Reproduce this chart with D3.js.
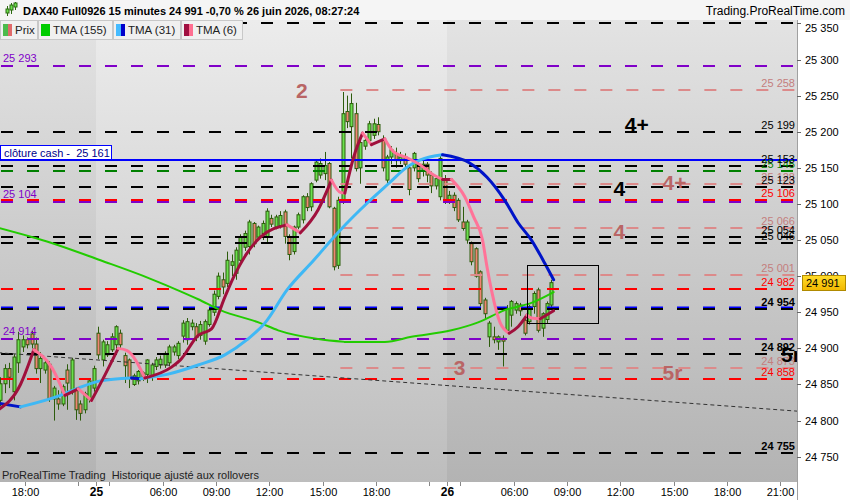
<!DOCTYPE html>
<html><head><meta charset="utf-8">
<script src="https://cdn.jsdelivr.net/npm/d3@7"></script>
<style>body{margin:0;background:#fff;} svg{display:block;font-family:"Liberation Sans",Arial,sans-serif;}</style>
</head><body><svg id="c" width="850" height="500"></svg>
<script>
// ---------------- DATA ----------------
const sessions = [
  {day:"24", start:"16:30", end:"22:00"},
  {day:"25", start:"02:15", end:"22:00"},
  {day:"26", start:"02:15", end:"22:00"}
];
const xTickTimes  = ["24 18:00","24 21:00","25 02:15","25 03:00","25 06:00","25 09:00","25 12:00","25 15:00","25 18:00","25 21:00","26 02:15","26 03:00","26 06:00","26 09:00","26 12:00","26 15:00","26 18:00","26 21:00"];
const xTickLabels = ["18:00","","25","","06:00","09:00","12:00","15:00","18:00","","26","","06:00","09:00","12:00","15:00","18:00","21:00"];
const yTicks = [24750,24800,24850,24900,24950,25000,25050,25100,25150,25200,25250,25300,25350];

// candles, one per 15-min bar from 24 juin 16:30: [open, high, low, close]
const candles = [
[24828,24860,24820,24851],[24851,24878,24838,24872],[24872,24880,24845,24860],[24840,24892,24828,24888],
[24880,24923,24866,24912],[24902,24918,24895,24912],[24912,24915,24900,24905],[24920,24924,24900,24906],
[24906,24915,24865,24872],[24872,24895,24852,24886],[24870,24885,24865,24880],[24878,24882,24826,24830],
[24830,24848,24800,24845],[24830,24842,24815,24823],[24823,24850,24820,24847],[24870,24878,24815,24852],
[24840,24887,24836,24884],[24842,24846,24801,24815],[24823,24828,24800,24810],[24815,24840,24810,24837],
[24830,24858,24825,24855],[24845,24876,24840,24872],
[24921,24930,24885,24891],[24884,24912,24875,24909],[24891,24910,24888,24905],[24898,24921,24895,24916],
[24905,24932,24900,24930],[24921,24926,24900,24905],[24890,24894,24852,24876],[24884,24886,24845,24858],
[24850,24865,24848,24862],[24855,24870,24850,24868],[24866,24868,24855,24860],[24864,24885,24852,24884],
[24862,24880,24855,24877],[24875,24888,24870,24884],[24877,24890,24872,24885],[24877,24896,24873,24893],
[24880,24905,24875,24902],[24895,24905,24890,24902],[24890,24910,24885,24907],[24917,24939,24908,24935],
[24912,24942,24905,24937],[24930,24940,24925,24935],[24930,24935,24910,24915],[24918,24938,24912,24933],
[24910,24940,24905,24937],[24933,24957,24930,24953],[24950,24980,24945,24975],[24972,25005,24968,25000],
[24995,25005,24975,24985],[24990,25034,24985,25022],[25015,25030,25000,25020],[25004,25040,24995,25036],
[25022,25058,25020,25054],[25040,25063,25035,25059],[25041,25078,25030,25075],[25073,25075,25040,25045],
[25054,25070,25050,25068],[25059,25077,25050,25073],[25055,25094,25045,25090],[25080,25085,25068,25072],
[25068,25085,25065,25082],[25070,25090,25066,25084],[25089,25092,25045,25055],[25055,25058,25022,25030],
[25034,25070,25030,25068],[25068,25088,25065,25085],[25078,25112,25073,25110],[25110,25115,25090,25095],
[25096,25130,25090,25128],[25133,25160,25130,25158],[25140,25163,25135,25156],[25142,25172,25133,25153],
[25156,25158,25094,25096],[25094,25096,25008,25013],[25015,25110,25010,25105],[25105,25255,25100,25225],
[25228,25250,25205,25214],[25207,25253,25163,25239],[25225,25240,25145,25149],[25150,25190,25128,25185],
[25180,25195,25175,25188],[25188,25215,25185,25211],[25195,25218,25190,25211],[25210,25220,25195,25200],
[25188,25195,25145,25150],[25133,25168,25128,25165],[25165,25180,25155,25175],[25170,25178,25150,25160],
[25160,25172,25155,25165],[25165,25170,25148,25155],[25150,25155,25112,25120],[25150,25172,25145,25170],
[25155,25160,25130,25135],[25145,25160,25138,25155],[25155,25158,25130,25140],[25140,25145,25115,25125],
[25125,25140,25120,25135],[25110,25168,25105,25163],[25135,25140,25100,25105],
[25105,25118,25100,25112],[25112,25116,25090,25095],[25105,25108,25075,25078],[25075,25096,25063,25066],
[25050,25078,25045,25075],[25045,25048,25015,25020],[25038,25040,24998,25000],[25006,25008,24958,24962],
[24967,24970,24940,24948],[24916,24938,24902,24935],[24916,24930,24907,24912],[24909,24918,24898,24916],
[24914,24918,24875,24910],[24925,24960,24922,24955],[24946,24967,24930,24965],[24953,24965,24948,24962],
[24960,24963,24945,24952],[24939,24942,24918,24921],[24937,24960,24933,24958],[24958,24979,24948,24976],
[24981,24984,24922,24925],[24928,24950,24916,24948],[24940,24965,24935,24962],[24960,24995,24955,24991]
];

// indicator readings: [bar slot, price]
const tma155 = [[0,25067],[12,25046],[23,25022],[34,24997],[41,24979],[45,24968],[50,24953],[59,24935],[63,24925],[72,24913],[78,24909],[87,24909],[93,24916],[102,24925],[108,24936],[114,24953],[120,24963],[125,24978]];
const tma31  = [[0,24824],[5,24819],[14,24835],[18,24845],[23,24855],[30,24859],[32,24858],[38,24864],[45,24877],[51,24891],[56,24912],[60,24935],[65,24981],[71,25022],[77,25064],[83,25101],[88,25129],[92,25151],[95,25161],[100,25168],[106,25157],[110,25137],[114,25105],[117,25074],[120,25050],[123,25018],[125,24995]];
const tma6   = [[0,24815],[5,24850],[8,24898],[12,24874],[15,24835],[18,24844],[21,24828],[24,24863],[27,24900],[29,24897],[33,24859],[39,24874],[41,24884],[45,24918],[48,24927],[51,24971],[53,24999],[56,25032],[59,25054],[65,25071],[68,25060],[72,25092],[75,25133],[77,25116],[78,25115],[80,25165],[82,25198],[84,25182],[87,25190],[89,25172],[92,25164],[95,25154],[98,25140],[100,25134],[102,25134],[105,25110],[107,25082],[109,25050],[110,25013],[111,24981],[113,24935],[115,24921],[117,24930],[119,24946],[120,24942],[122,24941],[125,24952]];
const trendLine = [[0,24894],[180,24813]];

// horizontal levels
const blackLevels  = [25351,25199,25153,25123,25054,25046,24954,24892,24755];
const greenLevels  = [25145];
const redLevels    = [25106,24982,24858];
const purpleLevels = [25293,25104,24914];
const blueLevels   = [24954];
const pinkLevels   = [25258,25128,25066,25001,24873];
const pinkStartSlot = 77;
const cashClose = 25161;
const boldLabels = [24954,24892,24755];
const lastPrice = 24991;
const zoneBox = [119,135,25015,24935]; // slot from, slot to, price top, price bottom

const annotations = [
  ["2",67,25247,"pink"],["4+",141,25200,"black"],["4",138.5,25111,"black"],["4+",149.5,25119,"pink"],
  ["4",138.5,25051,"pink"],["3",102.5,24863,"pink"],["5r",149.5,24856,"pink"],["5r",176.2,24881,"black"]
];
const headerText = "DAX40 Full0926 15 minutes 24 991 -0,70 % 26 juin 2026, 08:27:24";
const legendItems = [["Prix","#4cbb4c","#e06a6a"],["TMA (155)","#00cc00","#00cc00"],["TMA (31)","#44bbff","#0000cc"],["TMA (6)","#a01040","#ff6f91"]];

// ---------------- RENDER ----------------
const svg = d3.select("#c");
const PL=0, PR=797, PT=20, PB=482;
const toMin = s => { const [h,m]=s.split(":").map(Number); return h*60+m; };
const sessOffset = []; { let o=0; sessions.forEach(s=>{ sessOffset.push(o); o += (toMin(s.end)-toMin(s.start))/15; }); }
const totalSlots = sessions.reduce((a,s)=>a+(toMin(s.end)-toMin(s.start))/15,0);
const slotOf = str => { const [d,t]=str.split(" "); const k=sessions.findIndex(s=>s.day===d); return sessOffset[k]+(toMin(t)-toMin(sessions[k].start))/15; };

const x = d3.scaleLinear().domain([0,totalSlots]).range([-1.75,798]);
const y = d3.scaleLinear().domain([24750,25350]).range([456.7,23.4]);
const fmt = v => d3.format(",")(v).replace(/,/g," ");

const defs = svg.append("defs");
const mkGrad=(id,c1,c2)=>{const g=defs.append("linearGradient").attr("id",id).attr("x1",0).attr("y1",0).attr("x2",0).attr("y2",1);
  g.append("stop").attr("offset",0).attr("stop-color",c1); g.append("stop").attr("offset",1).attr("stop-color",c2);};
mkGrad("gLight","#ececec","#bdbdbd");
mkGrad("gDark","#e3e3e3","#b3b3b3");
mkGrad("gTag","#ffdc2a","#f2b800");
defs.append("clipPath").attr("id","plotClip").append("rect").attr("x",PL).attr("y",PT).attr("width",PR-PL).attr("height",PB-PT);

// background bands per session
svg.append("g").selectAll("rect").data(sessions).join("rect")
  .attr("x",(d,i)=>Math.max(PL,x(sessOffset[i])))
  .attr("width",(d,i)=>Math.min(PR,x(sessOffset[i]+(toMin(d.end)-toMin(d.start))/15))-Math.max(PL,x(sessOffset[i])))
  .attr("y",PT).attr("height",PB-PT)
  .attr("fill",(d,i)=>i%2===1?"url(#gLight)":"url(#gDark)");

const plot = svg.append("g").attr("clip-path","url(#plotClip)");

// candles
const cg = plot.append("g");
candles.forEach((d,i)=>{
  const cx = Math.round(x(i+0.5));
  const [o,h,l,c]=d;
  cg.append("line").attr("x1",cx+0.5).attr("x2",cx+0.5).attr("y1",y(h)).attr("y2",y(l)).attr("stroke","#2d5c0c").attr("stroke-width",1);
  const top=Math.min(y(o),y(c)), ht=Math.max(1,Math.abs(y(o)-y(c)));
  cg.append("rect").attr("x",cx-1).attr("width",3).attr("y",top).attr("height",ht)
    .attr("fill",c>=o?"#6be04e":"#f08474").attr("stroke","#2d5c0c").attr("stroke-width",1);
});

// levels
const lg = plot.append("g");
function levelLines(vals,color,startSlot,dy){
  lg.selectAll(null).data(vals).join("line")
    .attr("x1",startSlot==null?1:x(startSlot)).attr("x2",PR)
    .attr("y1",v=>Math.round(y(v))+(dy||0)).attr("y2",v=>Math.round(y(v))+(dy||0))
    .attr("stroke",color).attr("stroke-width",2).attr("stroke-dasharray","12,14");
}
levelLines(pinkLevels,"#dc8a8a",pinkStartSlot);
levelLines(purpleLevels,"#8000c8",null,1);
levelLines(greenLevels,"#008000");
levelLines(blueLevels,"#0000ff",null,-1.5);
levelLines(blackLevels,"#000");
levelLines(redLevels,"#ff0000");
// cash close
lg.append("line").attr("x1",PL).attr("x2",PR).attr("y1",Math.round(y(cashClose))).attr("y2",Math.round(y(cashClose)))
  .attr("stroke","#0000ff").attr("stroke-width",2);

// trend line
plot.append("line").attr("x1",x(trendLine[0][0])).attr("y1",y(trendLine[0][1])).attr("x2",x(trendLine[1][0])).attr("y2",y(trendLine[1][1]))
  .attr("stroke","#333").attr("stroke-width",1).attr("stroke-dasharray","4,3");

// indicator lines
const line = d3.line().x(d=>x(d[0])).y(d=>y(d[1])).curve(d3.curveMonotoneX);
function drawRuns(pts,upC,downC,w){
  const runs=[]; let cur=null;
  for(let k=1;k<pts.length;k++){
    const up = pts[k][1]>=pts[k-1][1];
    if(!cur||cur.up!==up){cur={up,pts:[pts[k-1]]};runs.push(cur);}
    cur.pts.push(pts[k]);
  }
  runs.forEach(r=>plot.append("path").attr("d",line(r.pts)).attr("fill","none")
    .attr("stroke",r.up?upC:downC).attr("stroke-width",w).attr("stroke-linecap","round").attr("stroke-linejoin","round"));
}
drawRuns(tma155,"#22cc00","#22cc00",2);
drawRuns(tma31,"#3fb8f5","#0014c8",3);
drawRuns(tma6,"#a0103c","#ff7398",3);

// zone box
plot.append("rect").attr("x",Math.round(x(zoneBox[0]))+0.5).attr("y",Math.round(y(zoneBox[2]))+0.5)
  .attr("width",Math.round(x(zoneBox[1])-x(zoneBox[0]))).attr("height",Math.round(y(zoneBox[3])-y(zoneBox[2])))
  .attr("fill","none").attr("stroke","#000").attr("stroke-width",1);

// right-side level labels
const tg = plot.append("g").attr("font-size","11px").attr("text-anchor","end");
function rLabels(vals,color){
  tg.selectAll(null).data(vals).join("text").attr("x",795).attr("y",v=>Math.round(y(v))-3)
    .attr("fill",color).attr("font-weight",v=>boldLabels.includes(v)?"bold":"normal").text(fmt);
}
rLabels(pinkLevels,"#c47e7e");
rLabels(greenLevels,"#008000");
rLabels(redLevels,"#ff0000");
rLabels(blackLevels.filter(v=>v<25300),"#000");
// left purple labels
plot.append("g").attr("font-size","11px").selectAll("text").data(purpleLevels).join("text")
  .attr("x",3).attr("y",v=>Math.round(y(v))-3).attr("fill","#8000c8").text(fmt);

// annotations
plot.append("g").attr("font-size","21px").attr("font-weight","bold").selectAll("text").data(annotations).join("text")
  .attr("x",d=>x(d[1])).attr("y",d=>y(d[2])).attr("fill",d=>d[3]==="pink"?"#b96565":"#000").text(d=>d[0]);

// cash close label
const cy = Math.round(y(cashClose));
svg.append("rect").attr("x",0.5).attr("y",cy-14.5).attr("width",111).attr("height",14).attr("fill","#fff").attr("stroke","#0000ff");
svg.append("text").attr("x",4).attr("y",cy-3).attr("font-size","11px").attr("fill","#00008b").style("white-space","pre")
  .text("clôture cash -  "+fmt(cashClose));

// bottom note
svg.append("text").attr("x",2).attr("y",479).attr("font-size","11px").attr("fill","#222").style("white-space","pre")
  .text("ProRealTime Trading  Historique ajusté aux rollovers");

// header
svg.append("rect").attr("x",0).attr("y",0).attr("width",850).attr("height",PT).attr("fill","#f5f5f5");
const ic = svg.append("g").attr("stroke","#2d6a10");
[[7,6,16,9,13],[11,3,14,5,10],[15,2,10,3,7]].forEach(d=>{
  ic.append("line").attr("x1",d[0]+0.5).attr("x2",d[0]+0.5).attr("y1",d[1]).attr("y2",d[2]);
  ic.append("rect").attr("x",d[0]-1).attr("y",d[3]).attr("width",3).attr("height",d[4]-d[3]).attr("fill","#6be04e");
});
svg.append("text").attr("x",23).attr("y",15).attr("font-size","11px").attr("font-weight","bold").attr("fill","#000").text(headerText);
svg.append("text").attr("x",845).attr("y",15).attr("font-size","12px").attr("text-anchor","end").attr("fill","#000").text("Trading.ProRealTime.com");

// legend
const legWidths = [37,74,67,61];
let lx=0;
const legG = svg.append("g").attr("font-size","11.5px");
legendItems.forEach((it,i)=>{
  const w = legWidths[i];
  legG.append("rect").attr("x",lx+0.5).attr("y",PT+0.5).attr("width",w).attr("height",19).attr("fill","#f0f0f0").attr("stroke","#c8c8c8");
  legG.append("rect").attr("x",lx+3).attr("y",PT+4).attr("width",5).attr("height",12).attr("fill",it[1]);
  legG.append("rect").attr("x",lx+8).attr("y",PT+4).attr("width",4).attr("height",12).attr("fill",it[2]);
  legG.append("text").attr("x",lx+15).attr("y",PT+14).attr("fill","#222").text(it[0]);
  lx += w+1;
});

// right axis
svg.append("rect").attr("x",PR).attr("y",PT).attr("width",850-PR).attr("height",500-PT).attr("fill","#fff");
svg.append("line").attr("x1",PR+0.5).attr("x2",PR+0.5).attr("y1",PT).attr("y2",PB).attr("stroke","#a0a0a0");
const ya = svg.append("g").attr("font-size","11px");
yTicks.forEach(v=>{
  const yy=Math.round(y(v))+0.5;
  ya.append("line").attr("x1",PR).attr("x2",PR+4).attr("y1",yy).attr("y2",yy).attr("stroke","#666");
  ya.append("text").attr("x",805).attr("y",Math.max(yy,28)).attr("dy","0.35em").attr("fill","#000").text(fmt(v));
});
// last price tag
const ty=y(lastPrice);
svg.append("rect").attr("x",802.5).attr("y",Math.round(ty)-7.5).attr("width",43).attr("height",15).attr("fill","url(#gTag)").attr("stroke","#b08a00");
svg.append("text").attr("x",806).attr("y",Math.round(ty)+4).attr("font-size","11px").attr("fill","#000").text(fmt(lastPrice));

// x axis
svg.append("rect").attr("x",0).attr("y",PB).attr("width",850).attr("height",500-PB).attr("fill","#fff");
const xa = svg.append("g").attr("font-size","11px").attr("text-anchor","middle");
xTickTimes.forEach((t,i)=>{
  const xx=Math.round(x(slotOf(t)))+0.5;
  xa.append("line").attr("x1",xx).attr("x2",xx).attr("y1",PB).attr("y2",PB+4).attr("stroke","#888");
  const lab=xTickLabels[i];
  if(lab) xa.append("text").attr("x",xx).attr("y",496).attr("fill","#000")
    .attr("font-weight",lab.length<=2?"bold":"normal").attr("font-size",lab.length<=2?"12px":"11px").text(lab);
});
svg.append("line").attr("x1",PR+0.5).attr("x2",PR+0.5).attr("y1",PB).attr("y2",500).attr("stroke","#a0a0a0");
</script></body></html>
